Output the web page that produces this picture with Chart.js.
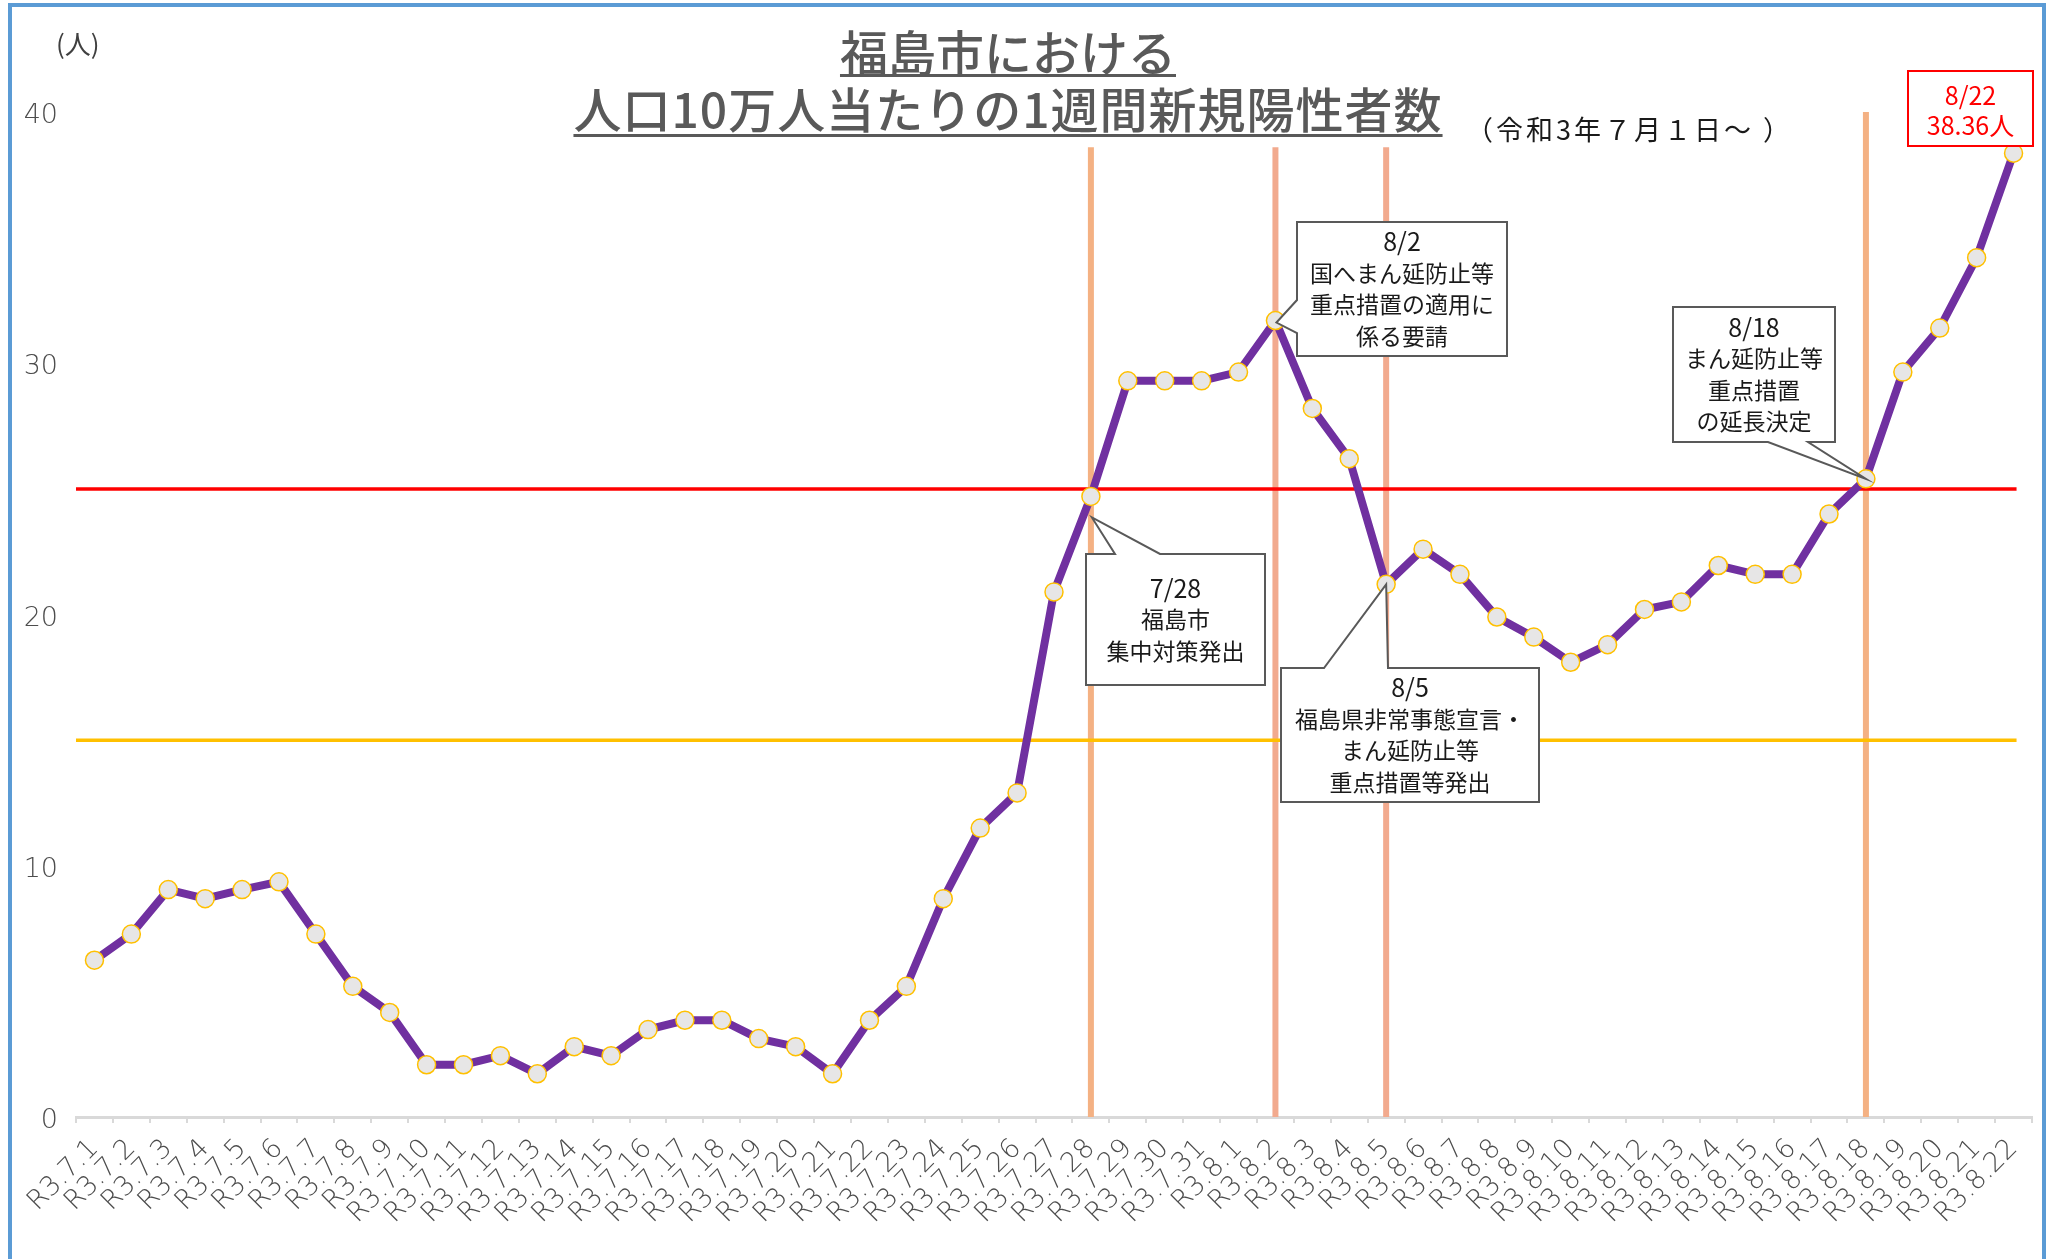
<!DOCTYPE html>
<html lang="ja">
<head>
<meta charset="utf-8">
<script src="https://cdn.jsdelivr.net/npm/chart.js@4.4.1/dist/chart.umd.min.js"></script>
<style>
html, body { margin: 0; padding: 0; background: #fff; }
body { width: 2049px; height: 1259px; position: relative; overflow: hidden; }
#frame { position: absolute; left: 8px; top: 3px; width: 2038px; height: 1400px; border: 4px solid #5B9BD5; box-sizing: border-box; }
#chart { position: absolute; left: 0; top: 0; }
.title { position: absolute; left: 508px; width: 1000px; text-align: center; color: #595959;
  font-family: "Noto Sans CJK JP"; font-weight: 500; font-size: 48px; line-height: 48px; white-space: nowrap;
  text-decoration: underline; text-decoration-thickness: 3px; }
.sub { position: absolute; left: 1466px; top: 115px; font-family: "Noto Sans CJK JP"; font-size: 27px; line-height: 27px; letter-spacing: 3px; color: #1a1a1a; white-space: nowrap; }
.unit { position: absolute; left: 56px; top: 30px; font-family: "Noto Sans CJK JP"; font-size: 26px; line-height: 26px; color: #404040; }
</style>
</head>
<body>
<div id="frame"></div>
<canvas id="chart" width="2049" height="1259"></canvas>
<div class="title" style="top:26px; text-underline-offset:3px;">福島市における</div>
<div class="title" style="top:83px; letter-spacing:1px; text-underline-offset:6px;">人口10万人当たりの1週間新規陽性者数</div>
<div class="sub">（令和3年７月１日～ ）</div>
<div class="unit">(人)</div>
<script>
// 日付ラベル
const dateLabels = [
  'R3.7.1','R3.7.2','R3.7.3','R3.7.4','R3.7.5','R3.7.6','R3.7.7','R3.7.8','R3.7.9','R3.7.10',
  'R3.7.11','R3.7.12','R3.7.13','R3.7.14','R3.7.15','R3.7.16','R3.7.17','R3.7.18','R3.7.19','R3.7.20',
  'R3.7.21','R3.7.22','R3.7.23','R3.7.24','R3.7.25','R3.7.26','R3.7.27','R3.7.28','R3.7.29','R3.7.30',
  'R3.7.31','R3.8.1','R3.8.2','R3.8.3','R3.8.4','R3.8.5','R3.8.6','R3.8.7','R3.8.8','R3.8.9',
  'R3.8.10','R3.8.11','R3.8.12','R3.8.13','R3.8.14','R3.8.15','R3.8.16','R3.8.17','R3.8.18','R3.8.19',
  'R3.8.20','R3.8.21','R3.8.22'
];

// 人口10万人当たりの1週間新規陽性者数
const weeklyPer100k = [
  6.24, 7.28, 9.05, 8.69, 9.05, 9.36, 7.28, 5.2, 4.16, 2.08,
  2.08, 2.44, 1.72, 2.8, 2.44, 3.48, 3.85, 3.85, 3.12, 2.8,
  1.72, 3.85, 5.2, 8.69, 11.5, 12.9, 20.9, 24.7, 29.3, 29.3,
  29.3, 29.65, 31.7, 28.2, 26.2, 21.2, 22.6, 21.6, 19.9, 19.1,
  18.1, 18.8, 20.2, 20.5, 21.95, 21.6, 21.6, 24.0, 25.4, 29.65,
  31.4, 34.2, 38.36
];

const yTicks = [0, 10, 20, 30, 40];

// 基準線
const thresholdValues = [25, 15];
const thresholdColors = ['#FF0000', '#FFC000'];

// 縦線（措置の日）
const markerIdx = [27, 32, 35, 48];
const markerTops = [38.6, 38.6, 38.6, 40];
const markerColors = ['#F4B183', '#F2AA8E', '#F2AA8E', '#F4B183'];

// 吹き出し
const calloutIdx = [27, 32, 35, 48];
const calloutText = [
  ['7/28', '福島市', '集中対策発出'],
  ['8/2', '国へまん延防止等', '重点措置の適用に', '係る要請'],
  ['8/5', '福島県非常事態宣言・', 'まん延防止等', '重点措置等発出'],
  ['8/18', 'まん延防止等', '重点措置', 'の延長決定']
];
// 吹き出しの配置（ピクセル）
const calloutLayout = [
  { box: [1086, 554, 1265, 685], side: 'top', base: [1115, 1160], off: [1, 21] },
  { box: [1297, 222, 1507, 356], side: 'left', base: [300, 333], off: [1, 2] },
  { box: [1281, 668, 1539, 802], side: 'top', base: [1324, 1388], off: [0, 0] },
  { box: [1673, 307, 1835, 442], side: 'bottom', base: [1768, 1808], off: [0, 0] }
];

const FONT = '"Noto Sans CJK JP"';

function drawCallout(ctx, lay, tip, lines) {
  const [x1, y1, x2, y2] = lay.box;
  ctx.save();
  ctx.beginPath();
  ctx.moveTo(x1, y1);
  if (lay.side === 'top') {
    ctx.lineTo(lay.base[0], y1); ctx.lineTo(tip.x, tip.y); ctx.lineTo(lay.base[1], y1);
  }
  ctx.lineTo(x2, y1);
  ctx.lineTo(x2, y2);
  if (lay.side === 'bottom') {
    ctx.lineTo(lay.base[1], y2); ctx.lineTo(tip.x, tip.y); ctx.lineTo(lay.base[0], y2);
  }
  ctx.lineTo(x1, y2);
  if (lay.side === 'left') {
    ctx.lineTo(x1, lay.base[1]); ctx.lineTo(tip.x, tip.y); ctx.lineTo(x1, lay.base[0]);
  }
  ctx.closePath();
  ctx.fillStyle = '#fff';
  ctx.fill();
  ctx.strokeStyle = '#595959';
  ctx.lineWidth = 2;
  ctx.stroke();

  // テキスト
  ctx.fillStyle = '#1a1a1a';
  ctx.textAlign = 'center';
  ctx.textBaseline = 'middle';
  const cx = (x1 + x2) / 2;
  const cy = (y1 + y2) / 2;
  const step = 31.5;
  lines.forEach((t, i) => {
    const yy = cy + (i - (lines.length - 1) / 2) * step;
    ctx.font = (i === 0 ? '25px ' : '23px ') + FONT;
    ctx.fillText(t, cx, yy);
  });
  ctx.restore();
}

const overlay = {
  id: 'overlay',
  beforeDatasetsDraw(chart) {
    const { ctx, chartArea, scales: { x, y } } = chart;
    ctx.save();
    // 縦線
    markerIdx.forEach((idx, i) => {
      const px = x.getPixelForValue(idx);
      ctx.strokeStyle = markerColors[i];
      ctx.lineWidth = 6;
      ctx.beginPath();
      ctx.moveTo(px, y.getPixelForValue(markerTops[i]));
      ctx.lineTo(px, y.getPixelForValue(0));
      ctx.stroke();
    });
    // 基準線
    const xEnd = x.getPixelForValue(weeklyPer100k.length - 1) + 3;
    thresholdValues.forEach((v, i) => {
      const py = y.getPixelForValue(v);
      ctx.strokeStyle = thresholdColors[i];
      ctx.lineWidth = 3.5;
      ctx.beginPath();
      ctx.moveTo(chartArea.left, py);
      ctx.lineTo(xEnd, py);
      ctx.stroke();
    });
    ctx.restore();
  },
  afterDatasetsDraw(chart) {
    const { ctx, scales: { x, y } } = chart;
    calloutIdx.forEach((idx, i) => {
      const lay = calloutLayout[i];
      const tip = {
        x: x.getPixelForValue(idx) + lay.off[0],
        y: y.getPixelForValue(weeklyPer100k[idx]) + lay.off[1]
      };
      drawCallout(ctx, lay, tip, calloutText[i]);
    });

    // 最新値の赤枠
    const last = weeklyPer100k.length - 1;
    const d = dateLabels[last].split('.');
    const lines = [d[1] + '/' + d[2], weeklyPer100k[last].toFixed(2) + '人'];
    ctx.save();
    ctx.fillStyle = '#fff';
    ctx.fillRect(1908, 71, 125, 75);
    ctx.strokeStyle = '#FF0000';
    ctx.lineWidth = 2;
    ctx.strokeRect(1908, 71, 125, 75);
    ctx.fillStyle = '#FF0000';
    ctx.font = '25px ' + FONT;
    ctx.textAlign = 'center';
    ctx.textBaseline = 'middle';
    ctx.fillText(lines[0], 1970.5, 95);
    ctx.fillText(lines[1], 1970.5, 125);
    ctx.restore();
  }
};

new Chart(document.getElementById('chart'), {
  type: 'line',
  data: {
    labels: dateLabels,
    datasets: [{
      data: weeklyPer100k,
      borderColor: '#7030A0',
      borderWidth: 8,
      tension: 0,
      pointRadius: 9,
      pointBackgroundColor: '#E7E6E6',
      pointBorderColor: '#FFC000',
      pointBorderWidth: 1.5,
      fill: false
    }]
  },
  options: {
    responsive: false,
    animation: false,
    devicePixelRatio: 1,
    layout: { padding: { top: 112, right: 17, left: 0, bottom: 0 } },
    plugins: {
      legend: { display: false },
      tooltip: { enabled: false }
    },
    scales: {
      x: {
        offset: true,
        afterFit(scale) { scale.height = 142; },
        grid: { offset: true, drawOnChartArea: false, drawTicks: true, tickLength: 6, color: '#D9D9D9', lineWidth: 2 },
        border: { color: '#D9D9D9', width: 3 },
        ticks: {
          autoSkip: false,
          maxRotation: 45,
          minRotation: 45,
          padding: 10,
          color: '#4d4d4d',
          font: { family: 'DejaVu Sans', size: 27, weight: '200' }
        }
      },
      y: {
        min: 0,
        max: 40,
        afterFit(scale) { scale.width = 76; },
        afterBuildTicks(scale) { scale.ticks = yTicks.map(v => ({ value: v })); },
        grid: { display: false, drawTicks: false },
        border: { display: false },
        ticks: {
          padding: 18,
          labelOffset: 4,
          color: '#4d4d4d',
          font: { family: 'DejaVu Sans', size: 27, weight: '200' }
        }
      }
    }
  },
  plugins: [overlay]
});
</script>
</body>
</html>
